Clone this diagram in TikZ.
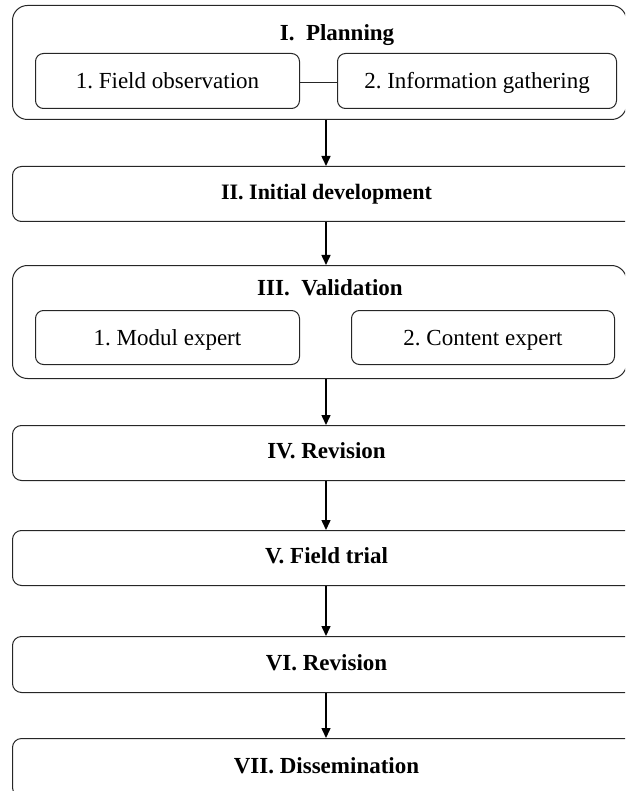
\documentclass[tikz,border=0pt]{standalone}
\usepackage{fontspec}
\setmainfont{Liberation Serif}
\usetikzlibrary{arrows.meta,calc}
\frenchspacing
\begin{document}
\frenchspacing
\begin{tikzpicture}[x=1pt,y=-1pt,
  outer/.style={draw=black!85, line width=1pt, rounded corners=15pt, inner sep=0pt, anchor=north west},
  stage/.style={draw=black!85, line width=1pt, rounded corners=9pt, inner sep=0pt, anchor=north west,
                text height=16pt, text depth=5pt,
                font=\fontsize{23}{27}\selectfont\bfseries},
  subbox/.style={draw=black!85, line width=1pt, rounded corners=8pt, inner sep=0pt, anchor=north west,
                text height=18pt, text depth=3pt,
                font=\fontsize{23}{27}\selectfont},
  head/.style={inner sep=0pt, font=\fontsize{23}{27}\selectfont\bfseries},
  arr/.style={line width=1.5pt, -{Triangle[length=10pt,width=9pt]}},
  link/.style={line width=1pt, draw=black!85}]
\path[use as bounding box] (0,0) rectangle (625,791);
\clip (0,0) rectangle (625,791);
\coordinate (ax) at (326,0);

% I. Planning
\node[outer, minimum width=614pt, minimum height=114pt] (plan) at (12,5) {};
\node[head] (planT) at (337,35) {I.\ \ Planning};
\node[subbox, minimum width=264pt, minimum height=55pt] (fobs) at (35,53) {1. Field observation};
\node[subbox, minimum width=279pt, minimum height=55pt] (info) at (337,53) {2. Information gathering};
\draw[link] ([yshift=-2pt]fobs.east) -- ([yshift=-2pt]info.west);

% II
\node[stage, minimum width=628pt, minimum height=55pt, font=\fontsize{22}{26}\selectfont\bfseries] (dev) at (12,166) {II. Initial development};

% III
\node[outer, minimum width=614pt, minimum height=113pt] (val) at (12,265) {};
\node[head] (valT) at (330,288) {III.\ \ Validation};
\node[subbox, minimum width=264pt, minimum height=54pt] (modul) at (35,310) {1. Modul expert};
\node[subbox, minimum width=263pt, minimum height=54pt] (content) at (351,310) {2. Content expert};

% IV - VII
\node[stage, minimum width=628pt, minimum height=55pt] (rev1) at (12,425) {IV. Revision};
\node[stage, minimum width=628pt, minimum height=55pt] (trial) at (12,530) {V. Field trial};
\node[stage, minimum width=628pt, minimum height=56pt] (rev2) at (12,636) {VI. Revision};
\node[stage, minimum width=628pt, minimum height=58pt] (diss) at (12,738) {VII. Dissemination};

% arrows
\draw[arr] (plan.south -| ax) -- (dev.north -| ax);
\draw[arr] (dev.south -| ax) -- (val.north -| ax);
\draw[arr] (val.south -| ax) -- (rev1.north -| ax);
\draw[arr] (rev1.south -| ax) -- (trial.north -| ax);
\draw[arr] (trial.south -| ax) -- (rev2.north -| ax);
\draw[arr] (rev2.south -| ax) -- (diss.north -| ax);
\end{tikzpicture}
\end{document}
